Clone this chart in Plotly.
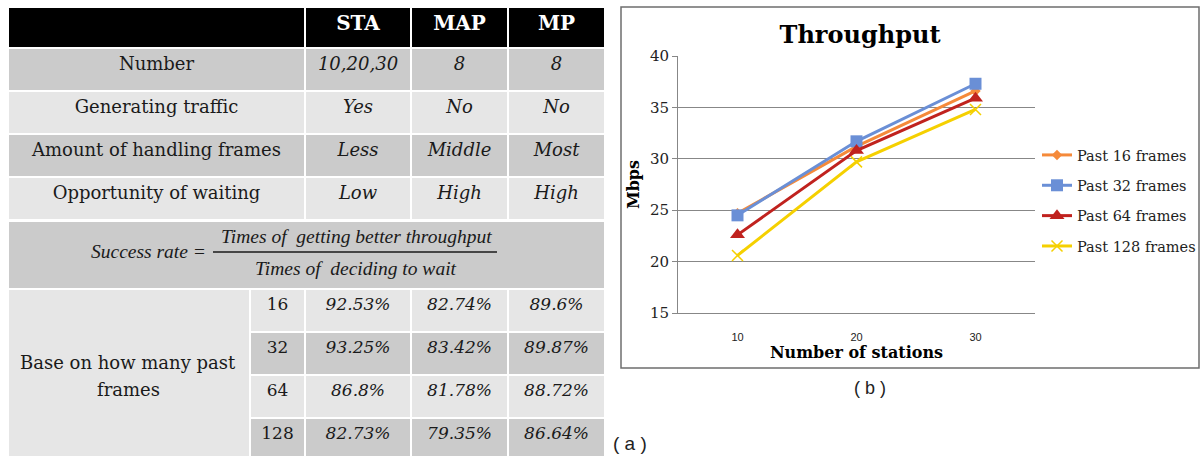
import plotly.graph_objects as go

# ---- table (a) data ----
col_heads = ["STA", "MAP", "MP"]
row_labels = ["Number", "Generating traffic", "Amount of handling frames", "Opportunity of waiting"]
sta_props = ["10,20,30", "Yes", "Less", "Low"]
map_props = ["8", "No", "Middle", "High"]
mp_props = ["8", "No", "Most", "High"]

past_frames = ["16", "32", "64", "128"]
rate_sta = ["92.53%", "93.25%", "86.8%", "82.73%"]
rate_map = ["82.74%", "83.42%", "81.78%", "79.35%"]
rate_mp = ["89.6%", "89.87%", "88.72%", "86.64%"]

# ---- chart (b) data ----
stations = ["10", "20", "30"]
past16 = [24.7, 31.2, 36.6]
past32 = [24.5, 31.7, 37.3]
past64 = [22.6, 30.8, 35.9]
past128 = [20.6, 29.7, 34.8]

W, H = 1203, 456
DARK, LIGHT = "#cbcbcb", "#e6e6e6"
SERIF = "DejaVu Serif"
NONE = "rgba(0,0,0,0)"
EMPTY_HEAD = 16  # plotly reserves this much for a table without header values
TEXT = "#1a1a1a"


def px(x):
    return x / W


def py(y):
    return 1 - y / H


# invisible header for tables that have no header row
blank_head = dict(values=[], fill_color=NONE, line=dict(color=NONE, width=0))
cell_line = dict(color="white", width=2)
label_then_italic = ["normal", "italic", "italic", "italic"]

fig = go.Figure()

# upper block: header + property rows
stripe4 = [DARK, LIGHT, DARK, LIGHT]
fig.add_trace(go.Table(
    domain=dict(x=[px(8), px(605)], y=[py(222), py(7)]),
    columnwidth=[297, 106, 97, 97],
    header=dict(values=[""] + col_heads,
                fill_color="black", line=cell_line,
                font=dict(family=SERIF, size=20, color="white", weight="bold"),
                align="center", height=41),
    cells=dict(values=[row_labels, sta_props, map_props, mp_props],
               fill_color=[stripe4] * 4, line=cell_line,
               font=dict(family=SERIF, size=18, color=TEXT, style=label_then_italic),
               align="center", height=43),
))

# success-rate row (single merged cell)
fig.add_trace(go.Table(
    domain=dict(x=[px(8), px(605)], y=[py(290), py(221 - EMPTY_HEAD)]),
    header=blank_head,
    cells=dict(values=[[""]], fill_color=DARK, line=cell_line, height=68),
))

# merged label cell of the lower block
fig.add_trace(go.Table(
    domain=dict(x=[px(8), px(250)], y=[0, py(289 - EMPTY_HEAD)]),
    header=blank_head,
    cells=dict(values=[[""]], fill_color=LIGHT, line=cell_line, height=190),
))

# success rates per number of past frames
stripe_low = [LIGHT, DARK, LIGHT, DARK]
fig.add_trace(go.Table(
    domain=dict(x=[px(250), px(605)], y=[0, py(289 - EMPTY_HEAD)]),
    columnwidth=[55, 106, 97, 97],
    header=blank_head,
    cells=dict(values=[past_frames, rate_sta, rate_map, rate_mp],
               fill_color=[stripe_low] * 4, line=cell_line,
               font=dict(family=SERIF, size=17, color=TEXT, style=label_then_italic),
               align="center", height=43),
))

# ---- throughput lines ----
series = [
    ("Past 16 frames", past16, "#f58a3a", dict(symbol="diamond", size=8)),
    ("Past 32 frames", past32, "#6a8fd6", dict(symbol="square", size=12)),
    ("Past 64 frames", past64, "#c0221e", dict(symbol="triangle-up", size=13)),
    ("Past 128 frames", past128, "#f5d000", dict(symbol="x-thin", size=11,
                                                  line=dict(width=1.5, color="#f5d000"))),
]
for i, (name, vals, color, mk) in enumerate(series):
    fig.add_trace(go.Scatter(
        x=stations, y=vals, name=name, mode="lines+markers",
        line=dict(color=color, width=3), marker=dict(color=color, **mk),
        legendgroup="g%d" % i,
    ))

grid = "#878787"
fig.update_layout(
    width=W, height=H,
    margin=dict(l=0, r=0, t=0, b=0, autoexpand=False),
    paper_bgcolor="white", plot_bgcolor="white",
    title=dict(text="<b>Throughput</b>", x=px(860), y=py(35), xanchor="center", yanchor="middle",
               font=dict(family=SERIF, size=24, color="black")),
    xaxis=dict(domain=[px(678), px(1035)], type="category", range=[-0.5, 2.5], automargin=False,
               showgrid=False, showline=True, linecolor=grid, ticks="",
               ticklabelstandoff=14,
               tickfont=dict(family="Liberation Sans", size=11, color="#222"),
               title=dict(text="<b>Number of stations</b>", standoff=3,
                          font=dict(family=SERIF, size=16, color="black"))),
    yaxis=dict(domain=[py(313), py(56)], range=[15, 40], dtick=5, automargin=False,
               showgrid=True, gridcolor=grid, gridwidth=1.2, zeroline=False,
               showline=True, linecolor=grid, ticks="outside", ticklen=5, tickcolor=grid,
               tickfont=dict(family=SERIF, size=15, color="#222"),
               title=dict(text="<b>Mbps</b>", standoff=6,
                          font=dict(family=SERIF, size=16, color="black"))),
    legend=dict(x=px(1037), y=py(139), xanchor="left", yanchor="top",
                traceorder="grouped", tracegroupgap=8.5, itemwidth=30,
                font=dict(family=SERIF, size=14.5, color="#222"),
                bgcolor=NONE),
    shapes=[
        # chart frame
        dict(type="rect", xref="paper", yref="paper", x0=px(621), x1=px(1199), y0=py(368), y1=py(7),
             line=dict(color="#6d6d6d", width=1.5), layer="below"),
        # fraction bar of the success-rate formula
        dict(type="line", xref="paper", yref="paper", x0=px(213), x1=px(497), y0=py(252), y1=py(252),
             line=dict(color=TEXT, width=1.5)),
    ],
)

ann_font = dict(family="Liberation Serif", size=19.5, color=TEXT, style="italic")
notes = [
    (208, 251, "right", "Success rate =", ann_font),
    (356, 236, "center", "Times of  getting better throughput", ann_font),
    (356, 268, "center", "Times of  deciding to wait", ann_font),
    (128, 362, "center", "Base on how many past", dict(family=SERIF, size=18, color=TEXT)),
    (128, 389, "center", "frames", dict(family=SERIF, size=18, color=TEXT)),
    (630, 443, "center", "( a )", dict(family="Liberation Sans", size=19, color="#222")),
    (870, 388, "center", "( b )", dict(family="Liberation Sans", size=18, color="#222")),
]
for x, y, anchor, text, font in notes:
    fig.add_annotation(x=px(x), y=py(y), xref="paper", yref="paper", xanchor=anchor,
                       yanchor="middle", text=text, showarrow=False, font=font)

fig.write_html("out.html")
